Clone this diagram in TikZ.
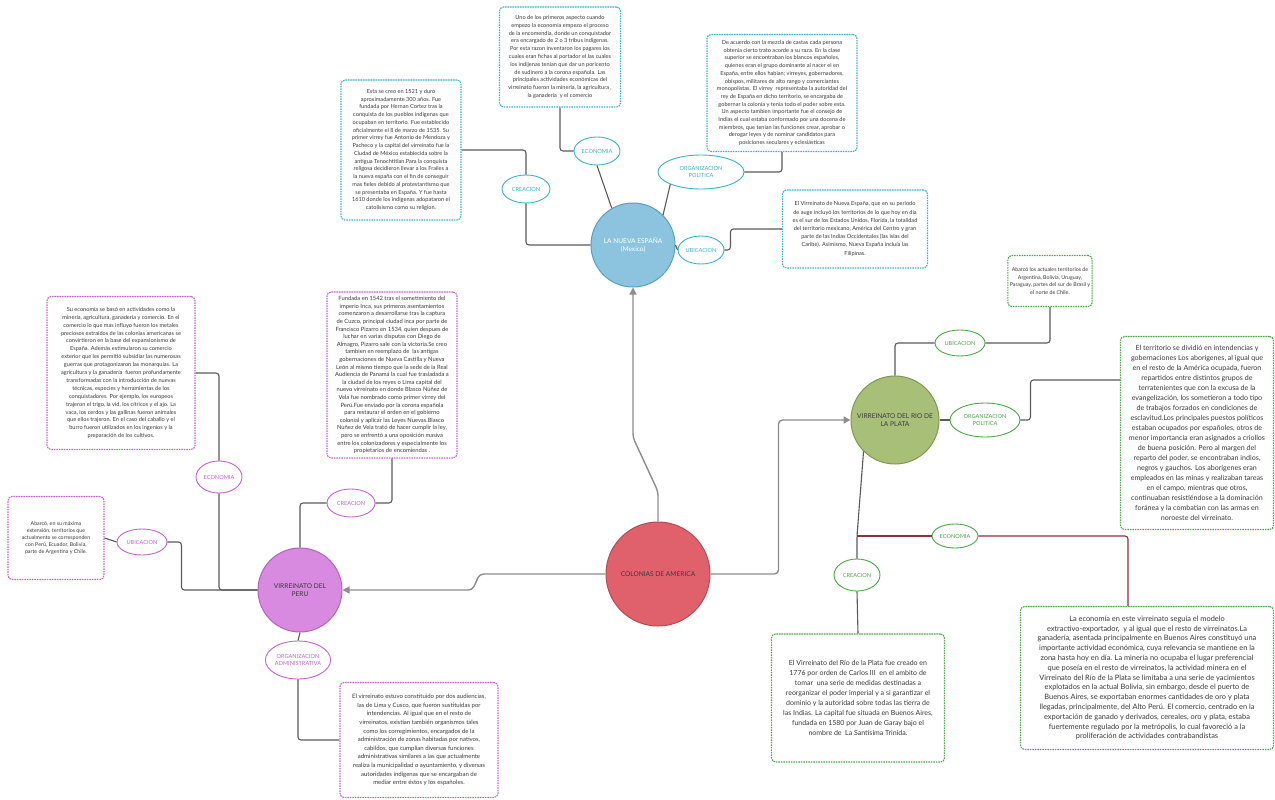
\documentclass[tikz,border=0pt]{standalone}
\usepackage{fontspec}
\setmainfont{Lato}
\usetikzlibrary{arrows.meta, shapes.geometric}
\definecolor{cInk}{HTML}{3a3a3a}
\definecolor{cLink}{HTML}{5a5a5a}
\definecolor{cArrow}{HTML}{8d8d8d}
\definecolor{cMaroon}{HTML}{8e2f3e}
\definecolor{cTeal}{HTML}{3bb3c6}
\definecolor{cMag}{HTML}{c463cc}
\definecolor{cGreen}{HTML}{4ea64a}
\definecolor{cRedFill}{HTML}{e0616c}
\definecolor{cRedLine}{HTML}{b34a55}
\definecolor{cBlueFill}{HTML}{8cc4df}
\definecolor{cBlueLine}{HTML}{5aa0c4}
\definecolor{cGreenFill}{HTML}{a8bf78}
\definecolor{cGreenLine}{HTML}{7e9a50}
\definecolor{cPurpFill}{HTML}{d88ae0}
\definecolor{cPurpLine}{HTML}{b364bd}
\newcommand{\txt}[2]{\fontsize{#1}{#2}\selectfont}
\tikzset{
  branch/.style={draw=cLink, line width=1.1pt, rounded corners=3pt},
  mainarrow/.style={-{Triangle[length=7pt,width=7pt]}, draw=cArrow, line width=1.4pt, rounded corners=4pt},
  hub/.style 2 args={circle, draw=#1, line width=1pt, fill=#2, align=center,
      inner sep=1pt, text=cInk, font=\txt{6.6}{8.2}},
  topic/.style={ellipse, draw=#1, line width=0.9pt, fill=white, text=#1, align=center,
      inner sep=0pt, font=\txt{5.6}{6.8}},
  info/.style={draw=#1, line width=1.1pt, dash pattern=on 1.6pt off 0.9pt, rounded corners=4pt,
      fill=white, align=center, inner sep=2pt, text=cInk},
}

\begin{document}
\begin{tikzpicture}[x=1pt, y=-1pt]
\useasboundingbox[fill=white] (0,0) rectangle (1275,800);

% ===================== hubs =====================
\node[hub={cRedLine}{cRedFill}, minimum size=104pt] (col) at (658,574) {COLONIAS DE AMERICA};
\node[hub={cBlueLine}{cBlueFill}, minimum size=84pt, text=white] (ne) at (633,245) {LA NUEVA ESPAÑA\\(Mexico)};
\node[hub={cGreenLine}{cGreenFill}, minimum size=88pt] (pl) at (895,420) {VIRREINATO DEL RIO DE\\LA PLATA};
\node[hub={cPurpLine}{cPurpFill}, minimum size=84pt] (pe) at (300,590) {VIRREINATO DEL\\PERU};

\draw[mainarrow] (col.north) -- ([yshift=30pt]col.north) -- ([yshift=-150pt]ne.south) -- (ne.south);
\draw[mainarrow] (col.east) -- ++(68,0) |- (pl.west);
\draw[mainarrow] (col.west) -- ++(-126,0) -- ([xshift=130pt]pe.east) -- (pe.east);

% ===================== LA NUEVA ESPAÑA =====================
\node[topic=cTeal, minimum width=48pt, minimum height=28pt] (neCreT) at (526,189) {CREACION};
\node[topic=cTeal, minimum width=46pt, minimum height=28pt] (neEcoT) at (597,151) {ECONOMIA};
\node[topic=cTeal, minimum width=86pt, minimum height=34pt] (neOrgT) at (701,172) {ORGANIZACION\\POLITICA};
\node[topic=cTeal, minimum width=46pt, minimum height=28pt] (neUbiT) at (701,250) {UBICACION};

\node[info=cTeal, minimum width=120pt, minimum height=140pt, font=\txt{5.6}{7.75}] (neCre) at (401,150)
  {Esta se creo en 1521 y duro\\ aproximadamente 300 años. Fue\\ fundada por Hernan Cortez tras la\\
   conquista de los pueblos indigenas que\\ ocupaban en territorio. Fue establecido\\
   oficialmente el 8 de marzo de 1535. Su\\ primer virrey fue Antonio de Mendoza y\\
   Pacheco y la capital del virreinato fue la\\ Ciudad de México establecida sobre la\\
   antigua Tenochtitlan.Para la conquista\\ religosa decidieron llevar a los Frailes a\\
   la nueva españa con el fin de conseguir\\ mas fieles debido al protestantismo que\\
   se presentaba en España. Y fue hasta\\ 1610 donde los indigenas adopataron el\\
   catolisismo como su religion.};
\node[info=cTeal, minimum width=121pt, minimum height=100pt, font=\txt{5.6}{7.8}] (neEco) at (560,57)
  {Uno de los primeros aspecto cuando\\ empezo la economia empezo el proceso\\
   de la encomendia, donde un conquistador\\ era encargado de 2 o 3 tribus indigenas.\\
   Por esta razon inventaron los pagares los\\ cuales eran fichas al portador el las cuales\\
   los indijenas tenian que dar un poricento\\ de sudinero a la corona española. Las\\
   principales actividades económicas del\\ virreinato fueron la mineria, la agricultura ,\\
   la ganaderia\ \ y el comercio};
\node[info=cTeal, minimum width=150pt, minimum height=117pt, font=\txt{5.6}{7.7}] (neOrg) at (782,93)
  {De acuerdo con la mezcla de castas cada persona\\ obtenia cierto trato acorde a su raza. En la clase\\
   superior se encontraban los blancos españoles,\\ quienes eran el grupo dominante al nacer el en\\
   España, entre ellos habian; virreyes, gobernadores,\\ obispos, militares de alto rango y comerciantes\\
   monopolistas. El virrey\ \ representaba la autoridad del\\ rey de España en dicho territorio, se encargaba de\\
   gobernar la colonia y tenia todo el poder sobre esta.\\ Un aspecto tambien importante fue el consejo de\\
   Indias el cual estaba conformado por una docena de\\ miembros, que tenian las funciones crear, aprobar o\\
   derogar leyes y de nominar candidatos para\\ posiciones seculares y eclesiásticas};
\node[info=cTeal, minimum width=145pt, minimum height=78pt, font=\txt{5.6}{8.2}] (neUbi) at (855,229)
  {El Virreinato de Nueva España, que en su periodo\\ de auge incluyó los territorios de lo que hoy en día\\
   es el sur de los Estados Unidos, Florida, la totalidad\\ del territorio mexicano, América del Centro y gran\\
   parte de las Indias Occidentales (las islas del\\ Caribe). Asimismo, Nueva España incluía las\\ Filipinas.};

\draw[branch] (ne.west) -| (neCreT.south);
\draw[branch] (neCreT.north) |- (neCre.east);
\draw[branch] (ne.120) -- (neEcoT.south);
\draw[branch] (neEcoT.west) -| (neEco.south);
\draw[branch] (ne.north east) -- (neOrgT.south west);
\draw[branch] (neOrgT.east) -| (neOrg.south);
\draw[branch] (ne.east) -- (neUbiT.west);
\draw[branch] (neUbiT.east) -- ++(6,0) |- (neUbi.west);

% ===================== VIRREINATO DEL PERU =====================
\node[topic=cMag, minimum width=46pt, minimum height=32pt] (peEcoT) at (219,477) {ECONOMIA};
\node[topic=cMag, minimum width=50pt, minimum height=26pt] (peUbiT) at (142,542) {UBICACION};
\node[topic=cMag, minimum width=48pt, minimum height=28pt] (peCreT) at (351,503) {CREACION};
\node[topic=cMag, minimum width=64pt, minimum height=38pt] (peOrgT) at (298,660) {ORGANIZACION\\ADMINISTRATIVA};

\node[info=cMag, minimum width=148pt, minimum height=153pt, font=\txt{5.6}{7.9}] (peEco) at (121,373)
  {Su economía se basó en actividades como la\\ minería, agricultura, ganadería y comercio. En el\\
   comercio lo que mas influyo fueron los metales\\ preciosos extraídos de las colonias americanas se\\
   convirtieron en la base del expansionismo de\\ España. Además estimularon su comercio\\
   exterior que les permitió subsidiar las numerosas\\ guerras que protagonizaron las monarquías. La\\
   agricultura y la ganadería\ \ fueron profundamente\\ transformadas con la introducción de nuevas\\
   técnicas, especies y herramientas de los\\ conquistadores. Por ejemplo, los europeos\\
   trajeron el trigo, la vid, los cítricos y el ajo. La\\ vaca, los cerdos y las gallinas fueron animales\\
   que ellos trajeron. En el caso del caballo y el\\ burro fueron utilizados en los ingenios y la\\
   preparación de los cultivos.};
\node[info=cMag, minimum width=130pt, minimum height=166pt, font=\txt{5.8}{7.6}] (peCre) at (392,375)
  {Fundada en 1542 tras el sometimiento del\\ imperio Inca, sus primeros asentamientos\\
   comenzaron a desarrollarse tras la captura\\ de Cuzco, principal ciudad inca por parte de\\
   Francisco Pizarro en 1534, quien despues de\\ luchar en varias disputas con Diego de\\
   Almagro, Pizarro sale con la victoria.Se creo\\ tambien en reemplazo de\ \ las antigas\\
   gobernaciones de Nueva Castilla y Nueva\\ León al mismo tiempo que la sede de la Real\\
   Audiencia de Panamá la cual fue trasladada a\\ la ciudad de los reyes o Lima capital del\\
   nuevo virreinato en donde Blasco Núñez de\\ Vela fue nombrado como primer virrey del\\
   Perú.Fue enviado por la corona española\\ para restaurar el orden en el gobierno\\
   colonial y aplicar las Leyes Nuevas.Blasco\\ Nuñez de Vela trató de hacer cumplir la ley,\\
   pero se enfrentó a una oposición masiva\\ entre los colonizadores y especialmente los\\
   propietarios de encomiendas .};
\node[info=cMag, minimum width=96pt, minimum height=83pt, font=\txt{5.3}{7}] (peUbi) at (56,538)
  {Abarcó, en su máxima\\ extensión, territorios que\\ actualmente se corresponden\\
   con Perú, Ecuador, Bolivia,\\ parte de Argentina y Chile.};
\node[info=cMag, minimum width=158pt, minimum height=115pt, font=\txt{6}{8.6}] (peOrg) at (419,740)
  {El virreinato estuvo constituido por dos audiencias,\\ las de Lima y Cusco, que fueron sustituidas por\\
   intendencias. Al igual que en el resto de\\ virreinatos, existían también organismos tales\\
   como los corregimientos, encargados de la\\ administración de zonas habitadas por nativos,\\
   cabildos, que cumplían diversas funciones\\ administrativas similares a las que actualmente\\
   realiza la municipalidad o ayuntamiento, y diversas\\ autoridades indígenas que se encargaban de\\
   mediar entre éstos y los españoles.};

\draw[branch] (peEco.east) -| (peEcoT.north);
\draw[branch] (peEcoT.south) |- (pe.west);
\draw[branch] (peUbi.east) -- (peUbiT.west);
\draw[branch] (peUbiT.east) -- ++(14,0) |- (pe.west);
\draw[branch] (pe.north) |- (peCreT.west);
\draw[branch] (peCreT.east) -| (peCre.south);
\draw[branch] (pe.south) -- (peOrgT.north);
\draw[branch] (peOrgT.south) |- (peOrg.west);

% ===================== RIO DE LA PLATA =====================
\node[topic=cGreen, minimum width=50pt, minimum height=26pt] (plUbiT) at (960,343) {UBICACION};
\node[topic=cGreen, minimum width=70pt, minimum height=34pt] (plOrgT) at (985,420) {ORGANIZACION\\POLITICA};
\node[topic=cGreen, minimum width=46pt, minimum height=24pt] (plEcoT) at (955,536) {ECONOMIA};
\node[topic=cGreen, minimum width=46pt, minimum height=32pt] (plCreT) at (857,575) {CREACION};

\node[info=cGreen, minimum width=80pt, minimum height=51pt, font=\txt{5.3}{7.5}] (plUbi) at (1050,281)
  {Abarcó los actuales territorios de\\ Argentina, Bolivia, Uruguay,\\
   Paraguay, partes del sur de Brasil y\\ el norte de Chile.};
\node[info=cGreen, minimum width=153pt, minimum height=193pt, font=\txt{7.1}{10}] (plOrg) at (1197,433)
  {El territorio se dividió en intendencias y\\ gobernaciones Los aborígenes, al igual que\\
   en el resto de la América ocupada, fueron\\ repartidos entre distintos grupos de\\
   terratenientes que con la excusa de la\\ evangelización, los sometieron a todo tipo\\
   de trabajos forzados en condiciones de\\ esclavitud.Los principales puestos políticos\\
   estaban ocupados por españoles, otros de\\ menor importancia eran asignados a criollos\\
   de buena posición. Pero al margen del\\ reparto del poder, se encontraban indios,\\
   negros y gauchos. Los aborígenes eran\\ empleados en las minas y realizaban tareas\\
   en el campo, mientras que otros,\\ continuaban resistiéndose a la dominación\\
   foránea y la combatían con las armas en\\ noroeste del virreinato.};
\node[info=cGreen, minimum width=173pt, minimum height=128pt, font=\txt{7}{10}] (plCre) at (858,698)
  {El Virreinato del Río de la Plata fue creado en\\ 1776 por orden de Carlos III\ \ en el ambito de\\
   tomar\ \ una serie de medidas destinadas a\\ reorganizar el poder imperial y a si garantizar el\\
   dominio y la autoridad sobre todas las tierra de\\ las Indias. La capital fue situada en Buenos Aires,\\
   fundada en 1580 por Juan de Garay bajo el\\ nombre de\ \ La Santísima Trinida.};
\node[info=cGreen, minimum width=253pt, minimum height=143pt, font=\txt{7.4}{9.8}] (plEco) at (1147,678)
  {La economía en este virreinato seguía el modelo\\
   extractivo-exportador,\ \ y al igual que el resto de virreinatos.La\\
   ganadería, asentada principalmente en Buenos Aires constituyó una\\
   importante actividad económica, cuya relevancia se mantiene en la\\
   zona hasta hoy en día. La minería no ocupaba el lugar preferencial\\
   que poseía en el resto de virreinatos, la actividad minera en el\\
   Virreinato del Río de la Plata se limitaba a una serie de yacimientos\\
   explotados en la actual Bolivia, sin embargo, desde el puerto de\\
   Buenos Aires, se exportaban enormes cantidades de oro y plata\\
   llegadas, principalmente, del Alto Perú. El comercio, centrado en la\\
   exportación de ganado y derivados, cereales, oro y plata, estaba\\
   fuertemente regulado por la metrópolis, lo cual favoreció a la\\
   proliferación de actividades contrabandistas};

\coordinate (plFork) at (857,536);
\draw[branch] (pl.north) |- (plUbiT.west);
\draw[branch] (plUbiT.east) -| (plUbi.south);
\draw[branch] (pl.east) -- (plOrgT.west);
\draw[branch] (plOrgT.east) -- ++(10,0) |- ([yshift=53pt]plOrg.west);
\draw[branch] (pl.south west) -- (plFork) -- (plCreT.north);
\draw[branch, draw=cMaroon] (plFork) -- (plEcoT.west);
\draw[branch, draw=cMaroon] (plEcoT.east) -| ([xshift=-19pt]plEco.north);
\draw[branch] (plCreT.south) -- (plCre.north);

\end{tikzpicture}
\end{document}
